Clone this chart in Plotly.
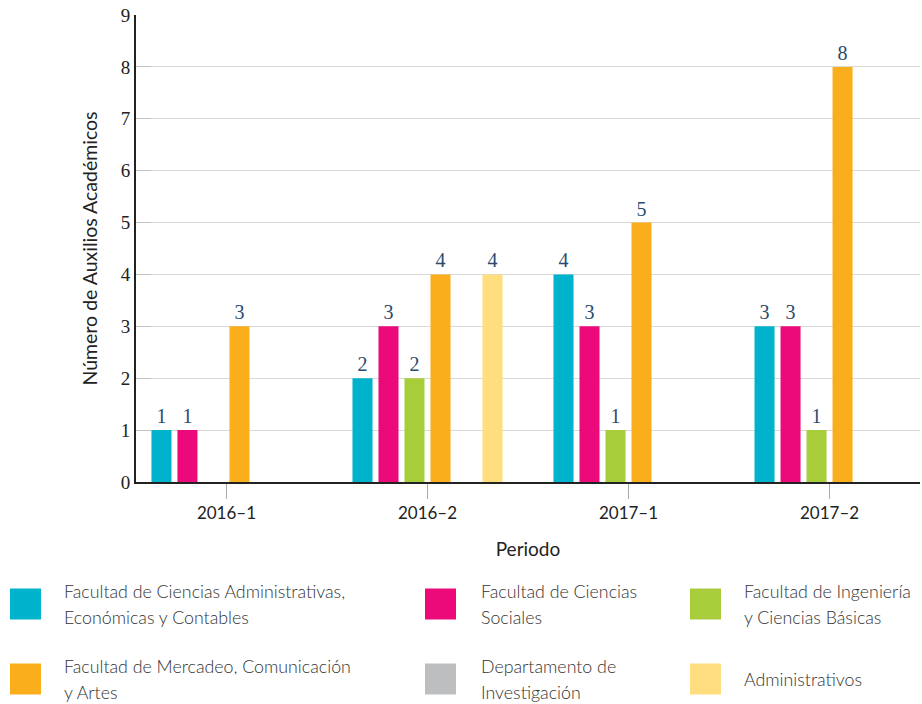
import plotly.graph_objects as go

# -----------------------------
# Data
# -----------------------------
periodos = ["2016–1", "2016–2", "2017–1", "2017–2"]

administrativas = [1, 2, 4, 3]
sociales = [1, 3, 3, 3]
ingenieria = [None, 2, 1, 1]
mercadeo = [3, 4, 5, 8]
investigacion = [None, None, None, None]
administrativos = [None, 4, None, None]

series = [
    ("Facultad de Ciencias Administrativas,<br>Económicas y Contables", administrativas, "#00b2cb"),
    ("Facultad de Ciencias<br>Sociales", sociales, "#ec0a7b"),
    ("Facultad de Ingeniería<br>y Ciencias Básicas", ingenieria, "#a8cd3a"),
    ("Facultad de Mercadeo, Comunicación<br>y Artes", mercadeo, "#fbae1b"),
    ("Departamento de<br>Investigación", investigacion, "#bcbec0"),
    ("Administrativos", administrativos, "#fede7f"),
]

serif = "Liberation Serif, DejaVu Serif, serif"
sans = "Lato, Noto Sans, sans-serif"

fig = go.Figure()
for name, vals, color in series:
    fig.add_trace(go.Bar(
        x=periodos, y=vals, name=name,
        marker_color=color, marker_line_width=0,
        text=vals, textposition="outside", cliponaxis=False,
        textfont=dict(family=serif, size=20, color="#2b4a6e"),
    ))

# -----------------------------
# Legend drawn by hand (3 columns x 2 rows, big swatches)
# -----------------------------
L, R, T, B = 136, 920, 15, 482
def px_x(v):
    return (v - L) / (R - L)
def px_y(v):
    return (B - v) / (B - T)

legend_pos = [(10, 604, 62), (425, 604, 479), (690, 604, 742),
              (10, 679, 62), (425, 679, 479), (690, 679, 742)]
for (name, vals, color), (sx, cy, tx) in zip(series, legend_pos):
    fig.add_shape(type="rect", xref="paper", yref="paper",
                  x0=px_x(sx), x1=px_x(sx + 31), y0=px_y(cy - 15.5), y1=px_y(cy + 15.5),
                  fillcolor=color, line_width=0)
    lines = name.split("<br>")
    offsets = [-13, 13] if len(lines) == 2 else [0]
    for line, off in zip(lines, offsets):
        fig.add_annotation(xref="paper", yref="paper", x=px_x(tx), y=px_y(cy + off),
                           xanchor="left", yanchor="middle", align="left",
                           text=line, showarrow=False,
                           font=dict(family=sans, size=17.8, color="#333333", weight=300))

fig.update_layout(
    width=922, height=704,
    margin=dict(l=L, r=922 - R, t=T, b=704 - B),
    plot_bgcolor="white", paper_bgcolor="white",
    showlegend=False,
    barmode="group", bargap=0.224, bargroupgap=0.23,
    font=dict(family=sans, color="#222"),
)
fig.update_xaxes(
    range=[-0.45, 3.45],
    showline=True, linecolor="#222", linewidth=2,
    ticks="outside", ticklen=15, tickcolor="#aaaaaa", tickwidth=1,
    tickfont=dict(family=sans, size=17, color="#222"),
    title=dict(text="Periodo", font=dict(family=sans, size=19, color="#222"), standoff=20),
)
fig.update_yaxes(
    range=[0, 9], dtick=1,
    showline=True, linecolor="#222", linewidth=2,
    showgrid=True, gridcolor="#d9d9d9", gridwidth=1,
    ticks="inside", ticklen=15, tickcolor="#c4c4c4",
    tickfont=dict(family=serif, size=19, color="#222"),
    title=dict(text="Número de Auxilios Académicos", font=dict(family=sans, size=19.5, color="#222"), standoff=18),
    zeroline=False,
)

fig.write_html("out.html", config={"displayModeBar": False},
               post_script="document.body.style.margin='0';")
